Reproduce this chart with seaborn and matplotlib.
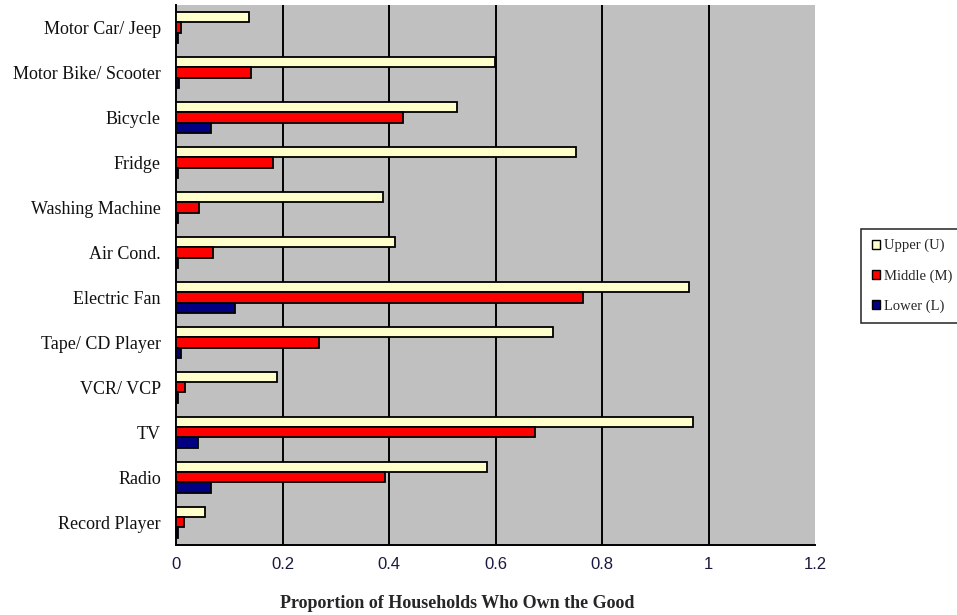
import matplotlib
matplotlib.use("Agg")
import matplotlib.pyplot as plt
import seaborn as sns
import pandas as pd
from matplotlib.patches import Patch

categories = ["Motor Car/ Jeep", "Motor Bike/ Scooter", "Bicycle", "Fridge",
              "Washing Machine", "Air Cond.", "Electric Fan", "Tape/ CD Player",
              "VCR/ VCP", "TV", "Radio", "Record Player"]
upper = [0.137, 0.598, 0.528, 0.750, 0.389, 0.411, 0.963, 0.707, 0.190, 0.970, 0.584, 0.055]
middle = [0.010, 0.141, 0.426, 0.182, 0.043, 0.069, 0.764, 0.269, 0.017, 0.674, 0.393, 0.014]
lower = [0.003, 0.006, 0.066, 0.003, 0.003, 0.003, 0.111, 0.010, 0.003, 0.041, 0.066, 0.003]
series = ["Upper (U)", "Middle (M)", "Lower (L)"]
colors = ["#FFFFCC", "#FF0000", "#000080"]
xticks = [0, 0.2, 0.4, 0.6, 0.8, 1.0, 1.2]
xticklabels = ["0", "0.2", "0.4", "0.6", "0.8", "1", "1.2"]

df = pd.DataFrame({
    "cat": categories * 3,
    "val": upper + middle + lower,
    "grp": [series[0]] * 12 + [series[1]] * 12 + [series[2]] * 12,
})

sns.set_style("white")
plt.rcParams["font.family"] = ["Liberation Serif", "DejaVu Serif"]

fig = plt.figure(figsize=(9.57, 6.15), dpi=100)
ax = fig.add_axes([0.184, 0.114, 0.668, 0.878])
ax.set_facecolor("#C0C0C0")

sns.barplot(data=df, x="val", y="cat", hue="grp", hue_order=series,
            order=categories, palette=colors, orient="h", width=0.68,
            edgecolor="black", linewidth=1.3, saturation=1, ax=ax,
            legend=False, errorbar=None, zorder=3)

ax.set_xlim(0, 1.2)
ax.set_xticks(xticks)
ax.set_xticklabels(xticklabels, family="Liberation Sans", fontsize=12,
                   color="#1a1a40")
for x in xticks[1:-1]:
    ax.axvline(x, color="black", lw=1.4, zorder=1)

ax.set_ylim(len(categories) - 0.5, -0.5)
ax.set_yticks(range(len(categories)))
ax.set_yticklabels(categories, fontsize=13, color="#111111")
ax.tick_params(axis="y", length=0, pad=11)
ax.set_yticks([i - 0.5 for i in range(len(categories) + 1)], minor=True)
ax.tick_params(axis="y", which="minor", length=5, width=1.3, direction="out", color="black")
ax.tick_params(axis="x", length=5, width=1.3, direction="out", color="black", pad=4)

for s in ["top", "right"]:
    ax.spines[s].set_visible(False)
ax.spines["left"].set_color("black")
ax.spines["left"].set_linewidth(1.4)
ax.spines["bottom"].set_color("black")
ax.spines["bottom"].set_linewidth(1.4)

ax.set_ylabel("")
ax.set_xlabel("Proportion of Households Who Own the Good", fontsize=13,
              fontweight="bold")
ax.xaxis.set_label_coords(0.44, -0.093)

handles = [Patch(facecolor=c, edgecolor="black", label=s) for c, s in zip(colors, series)]
leg = fig.legend(handles=handles, loc="upper left", bbox_to_anchor=(0.9, 0.628),
                 frameon=True, fancybox=False, edgecolor="black", fontsize=10.5,
                 handlelength=0.6, handleheight=0.6, handletextpad=0.25,
                 labelspacing=1.15, borderpad=0.7, borderaxespad=0)
leg.get_frame().set_linewidth(1.2)

fig.savefig("out.png", dpi=100)
